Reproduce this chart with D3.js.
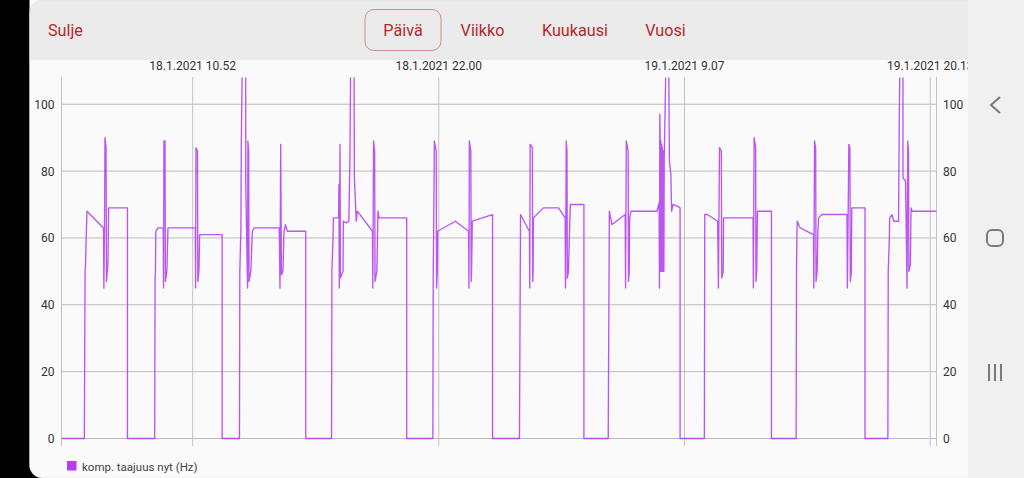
<!DOCTYPE html>
<html><head><meta charset="utf-8">
<script src="https://cdn.jsdelivr.net/npm/d3@7/dist/d3.min.js"></script>
<style>html,body{margin:0;padding:0;background:#000;overflow:hidden}svg{display:block}text{font-family:Roboto,sans-serif}</style>
</head><body><svg id="c" width="1024" height="478"></svg>
<script>
// minutes since chart start (18.1.2021 about 4.56) and compressor frequency (Hz)
const minutes=[0,62,64,65,67,69,114,115,117,118,121,122,126,128,179,179,
253,254,255,256,262,276,277,278,281,282,286,289,363,364,365,369,370,373,375,436,436,
483,484,487,488,491,500,500,505,506,508,509,514,518,523,591,593,595,597,601,604,608,613,663,663,
733,734,737,738,752,753,754,756,757,764,765,773,780,783,785,794,795,800,803,844,845,847,850,851,856,859,862,937,937,
1008,1009,1010,1012,1017,1018,1020,1021,1069,1105,1106,1107,1111,1112,1113,1115,1170,1170,
1243,1246,1270,1271,1272,1278,1279,1280,1281,1308,1349,1367,1368,1370,1372,1373,1376,1381,1418,1418,
1484,1487,1494,1530,1531,1533,1538,1539,1541,1542,1546,1616,1622,1623,1624,1625,1626,1627,1628,1629,1630,1631,1632,1633,1634,1635,1636,1641,1648,1650,1654,1656,1660,1672,1679,1679,
1745,1746,1753,1781,1783,1786,1791,1792,1796,1797,1877,1878,1880,1884,1885,1887,1889,1927,1927,
1994,1995,1996,1997,2005,2041,2042,2044,2047,2048,2051,2053,2055,2064,2132,2133,2136,2137,2140,2141,2144,2145,2181,2181,
2243,2244,2247,2248,2254,2259,2272,2274,2276,2284,2284,2291,2295,2297,2299,2300,2304,2306,2309,2375];
const hertz=[0,0,50,51,60,68,63,45,67,90,87,47,52,69,69,0,
0,48,50,62,63,63,45,89,89,47,50,63,63,45,87,86,47,50,61,61,0,
0,50,63,88,115,115,77,45,89,86,47,50,62,63,63,45,88,49,50,62,64,62,62,0,
0,50,60,66,66,76,45,88,48,50,65,64.5,65,85,115,115,78,65,68,62,45,89,86,47,50,68,66,66,0,
0,50,60,89,86,45,50,62,65,62,45,89,86,47,50,65,67,0,
0,67,62,45,88,87,47,50,66,69,69,66,45,89,86,48,50,70,70,0,
0,68,64,67,45,89,86,47,50,66,68,68,70.5,45,97,90,50,89,50,88,50,87,50,86,50,50,84,115,115,83,79,68,70,69.5,69,0,
0,67,67,65,45,87,86,48,50,66,66,45,90,87,47,50,68,68,0,
0,50,60,65,63,61,45,89,87,47,50,62,66,67,67,45,75,88,87,47,50,69,69,0,
0,50,60,66,67,65,65,96,115,115,78,77,45,89,86,50,52,69,68,68];
const gridMinutes=[356,1024,1691,2358];
const gridLabels=["18.1.2021 10.52","18.1.2021 22.00","19.1.2021 9.07","19.1.2021 20.13"];
const yTicks=[0,20,40,60,80,100];
const seriesName="komp. taajuus nyt (Hz)";
const navItems=["Päivä","Viikko","Kuukausi","Vuosi"];
const navCenters=[403,482.5,575,665.5];

const svg=d3.select("#c");
const red="#b5282c",purple="#b23ff0";
const x=d3.scaleLinear().domain([0,2375]).range([61.5,936.5]);
const y=d3.scaleLinear().domain([0,108]).range([438.5,77.5]);

// card
svg.append("rect").attr("x",29.5).attr("y",-20).attr("width",960).attr("height",498).attr("rx",13).attr("fill","#fafafa");
const topClip=svg.append("clipPath").attr("id","card");
topClip.append("rect").attr("x",29.5).attr("y",0).attr("width",960).attr("height",478).attr("rx",13);
svg.append("rect").attr("x",29.5).attr("y",0).attr("width",960).attr("height",60).attr("fill","#ebebeb").attr("clip-path","url(#card)");
svg.append("rect").attr("x",29.5).attr("y",0).attr("width",960).attr("height",478).attr("rx",13).attr("fill","none").attr("stroke","#dcdcdc").attr("stroke-width",0.5);

// horizontal grid
svg.append("g").selectAll("line").data(yTicks).join("line")
 .attr("x1",x(0)).attr("x2",x(2375)).attr("y1",d=>y(d)).attr("y2",d=>y(d)).attr("stroke","#bdbbbd").attr("stroke-width",1);
// vertical grid
svg.append("g").selectAll("line").data(gridMinutes).join("line")
 .attr("x1",d=>x(d)).attr("x2",d=>x(d)).attr("y1",77).attr("y2",446).attr("stroke","#c4c2c4").attr("stroke-width",1);
// axes
[0,2375].forEach(v=>svg.append("line").attr("x1",x(v)).attr("x2",x(v)).attr("y1",77).attr("y2",446).attr("stroke","#c4c2c4").attr("stroke-width",1));
// y tick labels
const tl=svg.append("g").attr("font-size",12).attr("fill","#333");
tl.selectAll("text.l").data(yTicks).join("text").attr("class","l").attr("x",54.5).attr("y",d=>y(d)+4.5).attr("text-anchor","end").text(d=>d);
tl.selectAll("text.r").data(yTicks).join("text").attr("class","r").attr("x",943).attr("y",d=>y(d)+4.5).text(d=>d);
// top labels
svg.append("g").attr("font-size",12).attr("fill","#333").selectAll("text").data(gridMinutes).join("text")
 .attr("x",d=>x(d)).attr("y",69.5).attr("text-anchor","middle").text((d,i)=>gridLabels[i]);

// line
svg.append("clipPath").attr("id","plot").append("rect").attr("x",x(0)).attr("y",y(108)).attr("width",x(2375)-x(0)).attr("height",y(0)-y(108)+2);
const line=d3.line().x((d,i)=>x(minutes[i])).y(d=>y(d));
svg.append("path").attr("d",line(hertz)).attr("fill","none").attr("stroke",purple).attr("stroke-width",1.35).attr("stroke-linejoin","round").attr("opacity",0.88).attr("clip-path","url(#plot)");

// legend
svg.append("rect").attr("x",67).attr("y",461).attr("width",9.5).attr("height",9.5).attr("fill",purple);
svg.append("text").attr("x",82).attr("y",471).attr("font-size",11.5).attr("fill","#444").text(seriesName);

// header
svg.append("text").attr("x",48).attr("y",36).attr("font-size",16.2).attr("fill",red).text("Sulje");
svg.append("rect").attr("x",365).attr("y",9.5).attr("width",76).attr("height",41).attr("rx",9).attr("fill","none").attr("stroke","#c8918f").attr("stroke-width",1);
svg.append("g").attr("font-size",16.2).attr("fill",red).selectAll("text").data(navItems).join("text")
 .attr("x",(d,i)=>navCenters[i]).attr("y",36).attr("text-anchor","middle").text(d=>d);

// system bar
svg.append("rect").attr("x",968).attr("y",0).attr("width",56).attr("height",478).attr("fill","#f0f0f0");
const nav=svg.append("g").attr("fill","none").attr("stroke","#7b7b7b").attr("stroke-width",2);
nav.append("path").attr("d","M1000 97L991 105L1000 113");
nav.append("rect").attr("x",987).attr("y",230).attr("width",16).attr("height",16).attr("rx",5);
[989,995,1001].forEach(v=>nav.append("line").attr("x1",v).attr("x2",v).attr("y1",364).attr("y2",381));
</script></body></html>
